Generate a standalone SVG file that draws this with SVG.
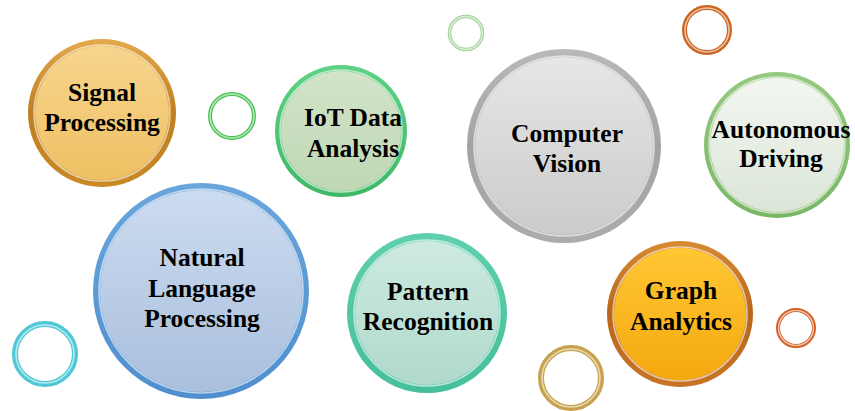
<svg xmlns="http://www.w3.org/2000/svg" width="855" height="411" viewBox="0 0 855 411">
<style>
.lbl{font-family:"Liberation Serif","Times New Roman",serif;font-weight:bold;font-size:25.5px;fill:#000;text-anchor:middle}
.hl{fill:none;stroke:#ffffff;stroke-opacity:0.6;stroke-width:1.6}
</style>
<defs>
<linearGradient id="rGold" x1="0" y1="0" x2="0" y2="1"><stop offset="0" stop-color="#e3a94c"/><stop offset="0.5" stop-color="#bf7f1f"/><stop offset="1" stop-color="#c98a25"/></linearGradient>
<linearGradient id="fGold" x1="0" y1="0" x2="0" y2="1"><stop offset="0" stop-color="#f7d58e"/><stop offset="1" stop-color="#efc063"/></linearGradient>
<linearGradient id="rGreen" x1="0" y1="0" x2="0" y2="1"><stop offset="0" stop-color="#5fd185"/><stop offset="1" stop-color="#3fb866"/></linearGradient>
<linearGradient id="fGreen" x1="0" y1="0" x2="0" y2="1"><stop offset="0" stop-color="#d3e4c9"/><stop offset="1" stop-color="#bfd7b3"/></linearGradient>
<linearGradient id="rGray" x1="0" y1="0" x2="0" y2="1"><stop offset="0" stop-color="#b9b9b9"/><stop offset="0.5" stop-color="#a3a3a3"/><stop offset="1" stop-color="#acacac"/></linearGradient>
<linearGradient id="fGray" x1="0" y1="0" x2="0" y2="1"><stop offset="0" stop-color="#e6e6e6"/><stop offset="1" stop-color="#cbcbcb"/></linearGradient>
<linearGradient id="rLGreen" x1="0" y1="0" x2="0" y2="1"><stop offset="0" stop-color="#96c981"/><stop offset="1" stop-color="#7ab765"/></linearGradient>
<linearGradient id="fLGreen" x1="0" y1="0" x2="0" y2="1"><stop offset="0" stop-color="#f2f6f0"/><stop offset="1" stop-color="#dce6d8"/></linearGradient>
<linearGradient id="rBlue" x1="0" y1="0" x2="0" y2="1"><stop offset="0" stop-color="#6aa6dc"/><stop offset="1" stop-color="#4f8fcf"/></linearGradient>
<linearGradient id="fBlue" x1="0" y1="0" x2="0" y2="1"><stop offset="0" stop-color="#ccdcf0"/><stop offset="1" stop-color="#a9bfdc"/></linearGradient>
<linearGradient id="rTeal" x1="0" y1="0" x2="0" y2="1"><stop offset="0" stop-color="#60cfae"/><stop offset="1" stop-color="#45bf9b"/></linearGradient>
<linearGradient id="fTeal" x1="0" y1="0" x2="0" y2="1"><stop offset="0" stop-color="#cdeae1"/><stop offset="1" stop-color="#b0d9cb"/></linearGradient>
<linearGradient id="rOrange" x1="0" y1="0" x2="0" y2="1"><stop offset="0" stop-color="#d88a32"/><stop offset="0.5" stop-color="#b9661a"/><stop offset="1" stop-color="#c87424"/></linearGradient>
<linearGradient id="fOrange" x1="0" y1="0" x2="0" y2="1"><stop offset="0" stop-color="#ffc733"/><stop offset="1" stop-color="#f4a90f"/></linearGradient>
</defs>

<g id="rings">
<g id="ring-green"><circle cx="232" cy="116" r="22" fill="none" stroke="#46bf4f" stroke-width="4"/><circle cx="232" cy="116" r="22" class="hl" stroke-width="1"/></g>
<g id="ring-lightgreen"><circle cx="466" cy="33" r="16.5" fill="none" stroke="#9fcf97" stroke-width="3.5"/><circle cx="466" cy="33" r="16.5" class="hl" stroke-width="1"/></g>
<g id="ring-orange-top"><circle cx="707" cy="30" r="22.5" fill="none" stroke="#cc6420" stroke-width="5"/><circle cx="707" cy="30" r="22" class="hl" stroke-width="1.2"/></g>
<g id="ring-cyan"><circle cx="45" cy="354" r="30" fill="none" stroke="#4dc8d6" stroke-width="6"/><circle cx="45" cy="354" r="29" class="hl" stroke-width="1.5"/></g>
<g id="ring-tan"><circle cx="571" cy="378" r="30" fill="none" stroke="#c6a24c" stroke-width="6"/><circle cx="571" cy="378" r="29" class="hl" stroke-width="1.5"/></g>
<g id="ring-red"><circle cx="796" cy="328" r="18" fill="none" stroke="#d45a1e" stroke-width="4"/><circle cx="796" cy="328" r="17.5" class="hl" stroke-width="1"/></g>
</g>

<g id="node-signal">
<circle cx="102" cy="113" r="74" fill="url(#rGold)"/>
<circle cx="102" cy="113" r="67" fill="url(#fGold)"/>
<circle cx="102" cy="113" r="68" class="hl"/>
<text class="lbl" x="102" y="101">Signal</text>
<text class="lbl" x="102" y="131">Processing</text>
</g>

<g id="node-iot">
<circle cx="341" cy="131" r="66" fill="url(#rGreen)"/>
<circle cx="341" cy="131" r="60" fill="url(#fGreen)"/>
<circle cx="341" cy="131" r="61" class="hl"/>
<text class="lbl" x="353" y="126">IoT Data</text>
<text class="lbl" x="353" y="157">Analysis</text>
</g>

<g id="node-cv">
<circle cx="564" cy="146" r="97" fill="url(#rGray)"/>
<circle cx="564" cy="146" r="89" fill="url(#fGray)"/>
<circle cx="564" cy="146" r="90" class="hl"/>
<text class="lbl" x="567" y="142">Computer</text>
<text class="lbl" x="567" y="172">Vision</text>
</g>

<g id="node-autonomous">
<circle cx="777" cy="145" r="73" fill="url(#rLGreen)"/>
<circle cx="777" cy="145" r="67" fill="url(#fLGreen)"/>
<circle cx="777" cy="145" r="68" class="hl"/>
<text class="lbl" x="781" y="138">Autonomous</text>
<text class="lbl" x="781" y="167">Driving</text>
</g>

<g id="node-nlp">
<circle cx="201" cy="291" r="108" fill="url(#rBlue)"/>
<circle cx="201" cy="291" r="101" fill="url(#fBlue)"/>
<circle cx="201" cy="291" r="102" class="hl"/>
<text class="lbl" x="202" y="266">Natural</text>
<text class="lbl" x="202" y="297">Language</text>
<text class="lbl" x="202" y="327">Processing</text>
</g>

<g id="node-pattern">
<circle cx="427" cy="313" r="80" fill="url(#rTeal)"/>
<circle cx="427" cy="313" r="72" fill="url(#fTeal)"/>
<circle cx="427" cy="313" r="73" class="hl"/>
<text class="lbl" x="428" y="300">Pattern</text>
<text class="lbl" x="428" y="330">Recognition</text>
</g>

<g id="node-graph">
<circle cx="680" cy="314" r="73" fill="url(#rOrange)"/>
<circle cx="680" cy="314" r="66" fill="url(#fOrange)"/>
<circle cx="680" cy="314" r="67" class="hl"/>
<text class="lbl" x="681" y="299">Graph</text>
<text class="lbl" x="681" y="330">Analytics</text>
</g>
</svg>
